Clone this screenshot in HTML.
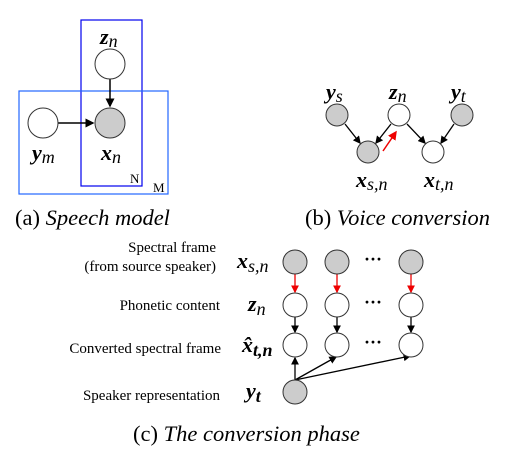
<!DOCTYPE html>
<html><head><meta charset="utf-8"><style>
body{margin:0;background:#fff}
svg{display:block}
text{font-family:"Liberation Serif",serif}
.b{font-weight:bold;font-style:italic;font-size:22px}
.cap{font-size:22.5px}
.lab{font-size:15px}
</style></head><body>
<svg width="510" height="451" viewBox="0 0 510 451">
<defs>
<marker id="ak" markerWidth="6" markerHeight="6" refX="5" refY="3" orient="auto"><path d="M0,0L6,3L0,6z" fill="#000"/></marker>
<marker id="ar" markerWidth="6" markerHeight="6" refX="5" refY="3" orient="auto"><path d="M0,0L6,3L0,6z" fill="#e00"/></marker>
</defs>
<g>
<rect x="81" y="20" width="61" height="166" fill="none" stroke="#0000ee" stroke-width="1.2"/>
<rect x="19" y="91" width="149" height="103" fill="none" stroke="#2266ff" stroke-width="1.2"/>
<line x1="110" y1="79" x2="110" y2="106" stroke="#000" stroke-width="1.5" marker-end="url(#ak)"/>
<line x1="58" y1="123" x2="93" y2="123" stroke="#000" stroke-width="1.5" marker-end="url(#ak)"/>
<circle cx="110" cy="64" r="15" fill="#fff" stroke="#333"/>
<circle cx="110" cy="123" r="15" fill="#ccc" stroke="#333"/>
<circle cx="43" cy="123" r="15" fill="#fff" stroke="#333"/>
<text x="100" y="44" class="b">z<tspan font-weight="normal" font-size="18" dy="3">n</tspan></text>
<text x="32" y="160" class="b">y<tspan font-weight="normal" font-size="18" dy="3">m</tspan></text>
<text x="101" y="160" class="b">x<tspan font-weight="normal" font-size="18" dy="3">n</tspan></text>
<text x="130" y="183" font-family="Liberation Sans" font-size="13">N</text>
<text x="153" y="192" font-family="Liberation Sans" font-size="13">M</text>
<text x="15" y="225" class="cap">(a) <tspan font-style="italic">Speech model</tspan></text>
</g>
<g>
<line x1="345" y1="124" x2="360" y2="143" stroke="#000" stroke-width="1.3" marker-end="url(#ak)"/>
<line x1="391" y1="124" x2="376" y2="143" stroke="#000" stroke-width="1.3" marker-end="url(#ak)"/>
<line x1="383" y1="151" x2="396" y2="132" stroke="#e00" stroke-width="1.5" marker-end="url(#ar)"/>
<line x1="407" y1="124" x2="425" y2="143" stroke="#000" stroke-width="1.3" marker-end="url(#ak)"/>
<line x1="454" y1="124" x2="441" y2="143" stroke="#000" stroke-width="1.3" marker-end="url(#ak)"/>
<circle cx="337" cy="115" r="11" fill="#ccc" stroke="#333"/>
<circle cx="399" cy="115" r="11" fill="#fff" stroke="#333"/>
<circle cx="462" cy="115" r="11" fill="#ccc" stroke="#333"/>
<circle cx="368" cy="152" r="11" fill="#ccc" stroke="#333"/>
<circle cx="433" cy="152" r="11" fill="#fff" stroke="#333"/>
<text x="326" y="99" class="b">y<tspan font-weight="normal" font-size="18" dy="3">s</tspan></text>
<text x="389" y="99" class="b">z<tspan font-weight="normal" font-size="18" dy="3">n</tspan></text>
<text x="451" y="99" class="b">y<tspan font-weight="normal" font-size="18" dy="3">t</tspan></text>
<text x="356" y="187" class="b">x<tspan font-weight="normal" font-size="18" dy="3">s,n</tspan></text>
<text x="424" y="187" class="b">x<tspan font-weight="normal" font-size="18" dy="3">t,n</tspan></text>
<text x="305" y="225" class="cap">(b) <tspan font-style="italic">Voice conversion</tspan></text>
</g>
<g>
<text x="216" y="252" class="lab" text-anchor="end">Spectral frame</text>
<text x="216" y="271" class="lab" text-anchor="end">(from source speaker)</text>
<text x="220" y="310" class="lab" text-anchor="end">Phonetic content</text>
<text x="221" y="353" class="lab" text-anchor="end">Converted spectral frame</text>
<text x="220" y="400" class="lab" text-anchor="end">Speaker representation</text>
<text x="237" y="268" class="b">x<tspan font-weight="normal" font-size="18" dy="4">s,n</tspan></text>
<text x="248" y="311" class="b">z<tspan font-weight="normal" font-size="18" dy="4">n</tspan></text>
<text x="242" y="352" class="b">x̂<tspan font-size="18" dy="4">t,n</tspan></text>
<text x="246" y="398" class="b">y<tspan font-size="18" dy="4">t</tspan></text>
<g stroke-width="1.3">
<line x1="295" y1="274" x2="295" y2="292" stroke="#e00" marker-end="url(#ar)"/>
<line x1="337" y1="274" x2="337" y2="292" stroke="#e00" marker-end="url(#ar)"/>
<line x1="411" y1="274" x2="411" y2="292" stroke="#e00" marker-end="url(#ar)"/>
<line x1="295" y1="317" x2="295" y2="332" stroke="#000" marker-end="url(#ak)"/>
<line x1="337" y1="317" x2="337" y2="332" stroke="#000" marker-end="url(#ak)"/>
<line x1="411" y1="317" x2="411" y2="332" stroke="#000" marker-end="url(#ak)"/>
<line x1="295" y1="380" x2="295" y2="358" stroke="#000" marker-end="url(#ak)"/>
<line x1="295" y1="380" x2="336" y2="357" stroke="#000" marker-end="url(#ak)"/>
<line x1="295" y1="380" x2="410" y2="356" stroke="#000" marker-end="url(#ak)"/>
</g>
<circle cx="295" cy="262" r="12" fill="#ccc" stroke="#333"/>
<circle cx="337" cy="262" r="12" fill="#ccc" stroke="#333"/>
<circle cx="411" cy="262" r="12" fill="#ccc" stroke="#333"/>
<circle cx="295" cy="305" r="12" fill="#fff" stroke="#333"/>
<circle cx="337" cy="305" r="12" fill="#fff" stroke="#333"/>
<circle cx="411" cy="305" r="12" fill="#fff" stroke="#333"/>
<circle cx="295" cy="345" r="12" fill="#fff" stroke="#333"/>
<circle cx="337" cy="345" r="12" fill="#fff" stroke="#333"/>
<circle cx="411" cy="345" r="12" fill="#fff" stroke="#333"/>
<circle cx="295" cy="392" r="12" fill="#ccc" stroke="#333"/>
<text x="373" y="265" font-size="18" font-weight="bold" text-anchor="middle">···</text>
<text x="373" y="308" font-size="18" font-weight="bold" text-anchor="middle">···</text>
<text x="373" y="348" font-size="18" font-weight="bold" text-anchor="middle">···</text>
<text x="133" y="441" class="cap">(c) <tspan font-style="italic">The conversion phase</tspan></text>
</g>
</svg>
</body></html>
